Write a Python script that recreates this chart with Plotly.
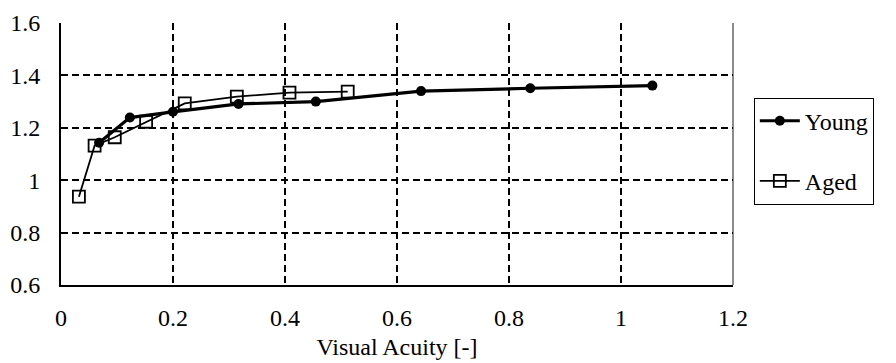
import plotly.graph_objects as go

# Young subjects
young_x = [0.068, 0.123, 0.200, 0.317, 0.455, 0.643, 0.838, 1.056]
young_y = [1.143, 1.239, 1.261, 1.291, 1.300, 1.340, 1.351, 1.361]

# Aged subjects
aged_x = [0.032, 0.060, 0.096, 0.152, 0.221, 0.314, 0.408, 0.512]
aged_y = [0.937, 1.132, 1.164, 1.223, 1.293, 1.319, 1.334, 1.338]

x_ticks = [0, 0.2, 0.4, 0.6, 0.8, 1, 1.2]
x_tick_text = ["0", "0.2", "0.4", "0.6", "0.8", "1", "1.2"]
y_ticks = [0.6, 0.8, 1.0, 1.2, 1.4, 1.6]
y_tick_text = ["0.6", "0.8", "1", "1.2", "1.4", "1.6"]

FONT = "Liberation Serif, serif"
FS = 24

fig = go.Figure()
fig.add_trace(go.Scatter(
    x=young_x, y=young_y, name="Young", mode="lines+markers",
    legendgroup="young",
    line=dict(color="black", width=3.2),
    marker=dict(symbol="circle", size=10, color="black"),
))
fig.add_trace(go.Scatter(
    x=aged_x, y=aged_y, name="Aged", mode="lines+markers",
    legendgroup="aged",
    line=dict(color="black", width=1.8),
    marker=dict(symbol="square-open", size=12, color="black",
                line=dict(width=1.8, color="black")),
))

# grey frame on the right side of the plot area
fig.add_shape(type="line", xref="paper", yref="paper", x0=1, x1=1, y0=0, y1=1,
              line=dict(color="#8c8c8c", width=2), layer="below")

fig.update_layout(
    width=896, height=363,
    margin=dict(l=61, r=163, t=23, b=78),
    paper_bgcolor="white", plot_bgcolor="white",
    font=dict(family=FONT, size=FS, color="black"),
    showlegend=True,
    legend=dict(
        x=1.031, y=0.715, xanchor="left", yanchor="top",
        bordercolor="black", borderwidth=1,
        font=dict(family=FONT, size=FS, color="black"),
        tracegroupgap=26, traceorder="grouped",
        itemwidth=40,
    ),
    xaxis=dict(
        range=[0, 1.2], tickvals=x_ticks, ticktext=x_tick_text,
        showgrid=True, gridcolor="black", gridwidth=2, griddash="7px,4px",
        zeroline=False, showline=True, linecolor="black", linewidth=2,
        ticks="", ticklabelstandoff=10, automargin=False,
        title=dict(text="Visual Acuity [-]", standoff=8,
                   font=dict(family=FONT, size=FS)),
    ),
    yaxis=dict(
        range=[0.6, 1.6], tickvals=y_ticks, ticktext=y_tick_text,
        showgrid=True, gridcolor="black", gridwidth=2, griddash="7px,4px",
        zeroline=False, showline=True, linecolor="black", linewidth=2,
        ticks="", ticklabelstandoff=14, automargin=False,
    ),
)

fig.write_html("out.html")
